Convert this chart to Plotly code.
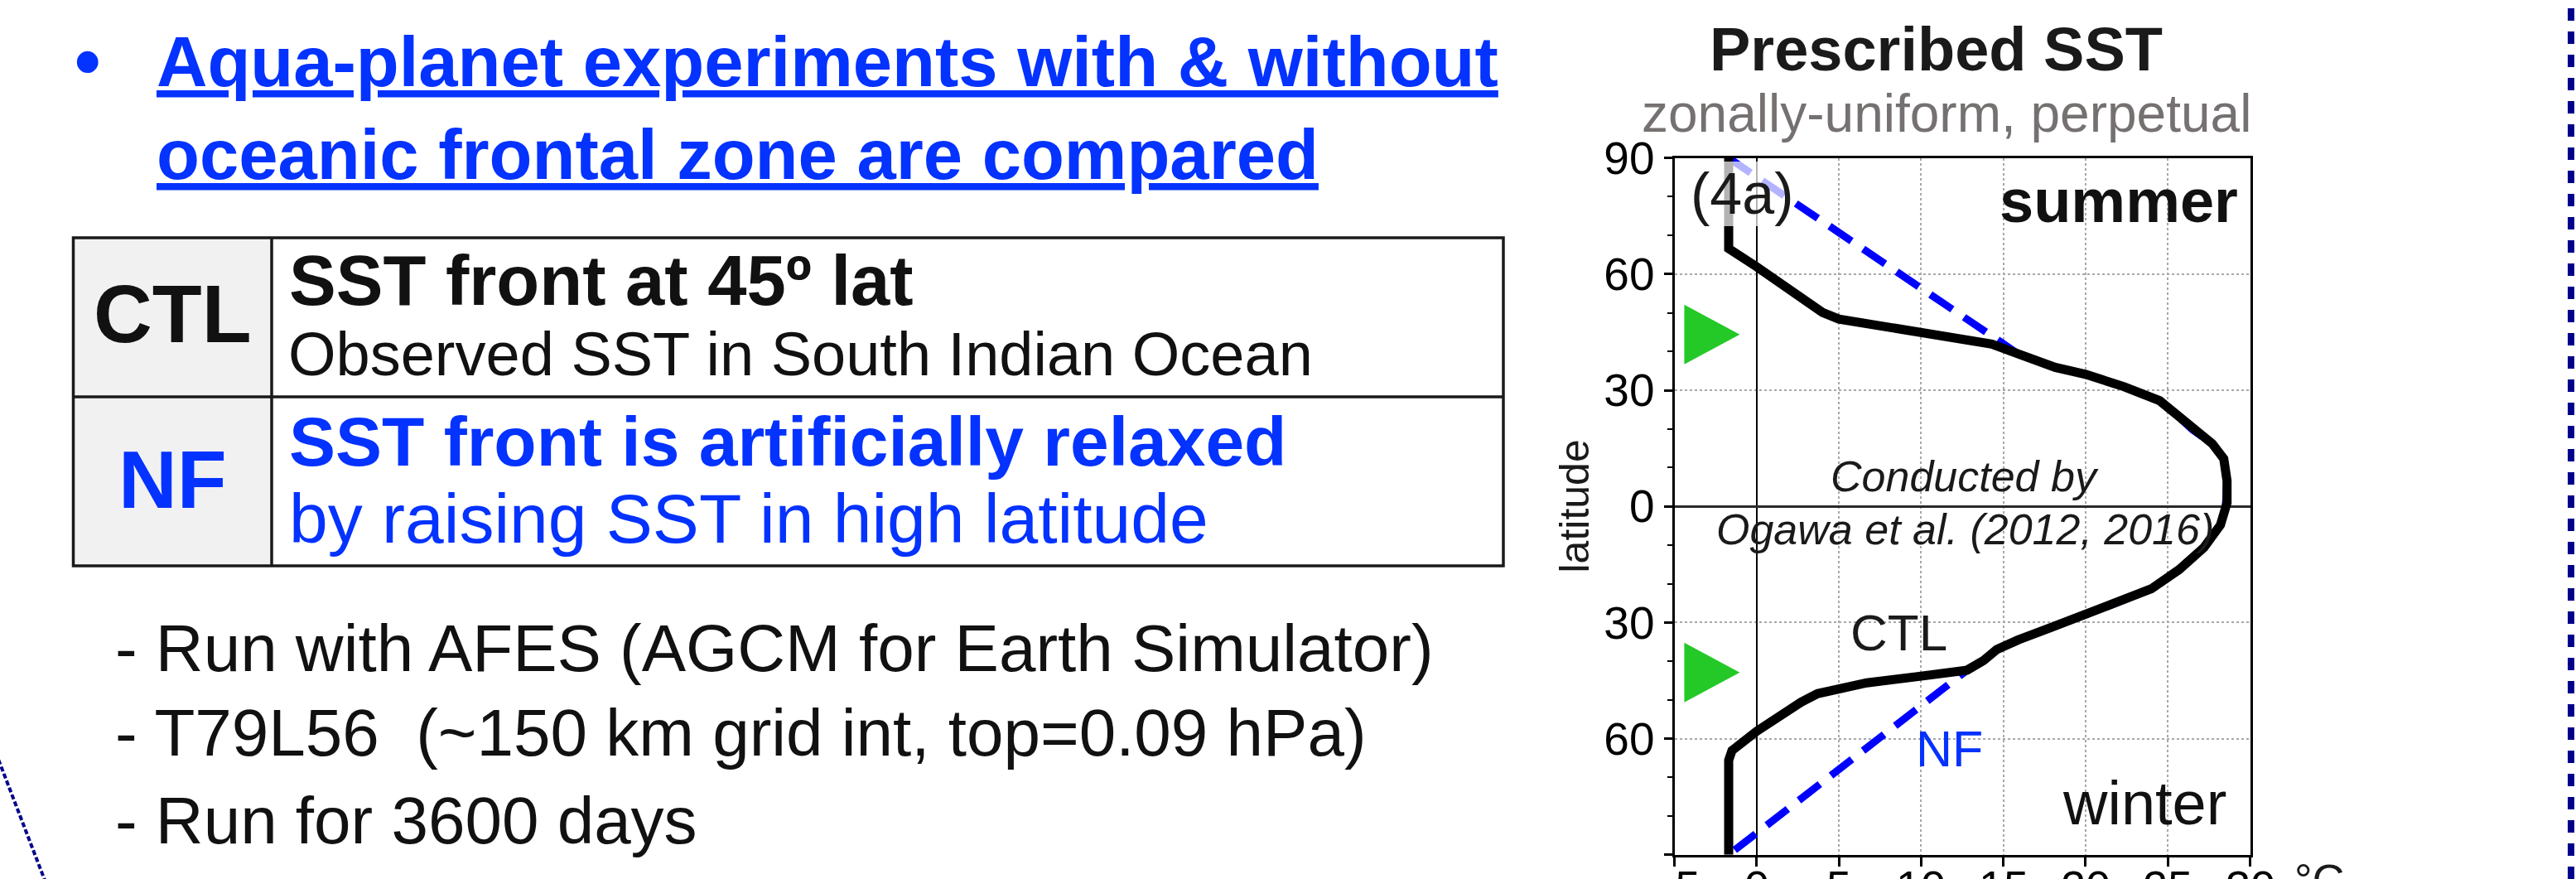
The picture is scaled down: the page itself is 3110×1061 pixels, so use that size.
import plotly.graph_objects as go

W, H = 3110, 1061
FONT = "Liberation Sans, Arial, Helvetica, sans-serif"
BLUE_TXT = "#0432ff"
NF_BLUE = "#0000ff"
GREEN = "#24c928"

# Prescribed zonal-mean SST profiles (deg C) against latitude (deg, + = summer side)
ctl_lat = [90, 66.6, 61.9, 50.1, 48.4, 46.6, 45.0, 43.4, 41.9, 39.4,
           35.9, 34.1, 30.9, 27.3, 23.7, 19.8, 16.2, 12.3, 6.6, 0.9,
           -0.6, -4.8, -10.6, -16.3, -21.3, -25.6, -27.7, -31.3, -34.5, -37.0,
           -39.8, -42.3, -43.8, -45.6, -48.4, -50.6, -58.1, -63.1, -65.6, -90]
ctl_sst = [-1.7, -1.7, 0.0, 4.0, 5.0, 7.5, 10.0, 12.6, 14.3, 15.9,
           18.15, 20.0, 22.35, 24.5, 25.5, 26.5, 27.7, 28.4, 28.6, 28.6,
           28.5, 28.2, 27.2, 25.7, 24.0, 21.5, 20.1, 17.9, 15.9, 14.6,
           13.8, 12.8, 10.1, 6.7, 3.7, 2.7, 0.0, -1.5, -1.7, -1.7]

# NF: relaxed (linear) SST poleward of these latitudes, CTL profile in between
nf_pole_lat = [90, -90]
nf_pole_sst = [-1.7, -1.7]
nf_merge_n, nf_merge_s = 39.4, -42.3

# latitudes of the CTL SST fronts
front_lat = [44.4, -42.9]

lat_ticks = [-90, -60, -30, 0, 30, 60, 90]
lat_labels = ["90", "60", "30", "0", "30", "60", "90"]
sst_ticks = [-5, 0, 5, 10, 15, 20, 25, 30]
sst_labels = ["\u22125", "0", "5", "10", "15", "20", "25", "30"]

nf_mid = [(la, s) for la, s in zip(ctl_lat, ctl_sst) if nf_merge_s <= la <= nf_merge_n]
nf_lat = [nf_pole_lat[0]] + [p[0] for p in nf_mid] + [nf_pole_lat[1]]
nf_sst = [nf_pole_sst[0]] + [p[1] for p in nf_mid] + [nf_pole_sst[1]]


def px(x):
    return x / W


def py(y):
    return 1 - y / H


fig = go.Figure()

fig.add_trace(go.Scatter(
    x=nf_sst, y=nf_lat, mode="lines", name="NF",
    line=dict(color=NF_BLUE, width=9, dash="32px,17px"),
    hoverinfo="skip", showlegend=False))
fig.add_trace(go.Scatter(
    x=ctl_sst, y=ctl_lat, mode="lines", name="CTL",
    line=dict(color="black", width=11),
    hoverinfo="skip", showlegend=False))

# green triangles marking the frontal latitudes
tri_x = -4.4
for lat in front_lat:
    fig.add_shape(type="path", xref="x", yref="y",
                  xsizemode="pixel", ysizemode="pixel",
                  xanchor=tri_x, yanchor=lat,
                  path="M 0,36 L 67,0 L 0,-36 Z",
                  fillcolor=GREEN, line=dict(width=0), layer="above")

x_dom = [2021.5 / W, 2716.5 / W]
y_dom = [1 - 1031.7 / H, 1 - 190.7 / H]

fig.update_layout(
    width=W, height=H, autosize=False,
    margin=dict(l=0, r=0, t=0, b=0, pad=0, autoexpand=False),
    paper_bgcolor="white", plot_bgcolor="white",
    font=dict(family=FONT, color="black"),
    xaxis=dict(
        domain=x_dom, range=[-5, 30], tickvals=sst_ticks, automargin=False,
        ticks="outside", ticklen=11, tickwidth=2.5, tickcolor="black",
        showticklabels=False,
        showline=True, linewidth=3, linecolor="black", mirror=True,
        showgrid=True, gridcolor="#a8a8a8", gridwidth=1.5, griddash="dot",
        zeroline=True, zerolinecolor="black", zerolinewidth=2,
        fixedrange=True),
    yaxis=dict(
        domain=y_dom, range=[-90, 90], tickvals=lat_ticks, ticktext=lat_labels,
        automargin=False,
        ticks="outside", ticklen=10, tickwidth=2.5, tickcolor="black",
        tickfont=dict(size=55, color="black", family=FONT),
        minor=dict(dtick=10, ticks="outside", ticklen=6, tickwidth=2,
                   tickcolor="black", showgrid=False),
        showline=True, linewidth=3, linecolor="black", mirror=True,
        showgrid=True, gridcolor="#a8a8a8", gridwidth=1.5, griddash="dot",
        zeroline=True, zerolinecolor="#2a2a2a", zerolinewidth=2.5,
        fixedrange=True),
)

anns = []


def add_text(text, x, y, size, color="black", xanchor="left", bg=None, angle=0):
    d = dict(xref="paper", yref="paper", x=px(x), y=py(y),
             xanchor=xanchor, yanchor="middle", showarrow=False, text=text,
             font=dict(family=FONT, size=size, color=color),
             borderpad=0, borderwidth=0, textangle=angle)
    if bg:
        d["bgcolor"] = bg
    anns.append(d)


# SST tick labels below the frame (placed on the x scale)
for v, lab in zip(sst_ticks, sst_labels):
    anns.append(dict(xref="x", yref="paper", x=v, y=py(1089 - 0.347 * 54),
                     xanchor="center", yanchor="middle", showarrow=False,
                     text=lab, font=dict(family=FONT, size=54, color="black"),
                     borderpad=0, borderwidth=0))

# heading
add_text("<b>\u2022</b>", 106, 74, 90, BLUE_TXT, "center")
add_text("<b><u>Aqua-planet experiments with &amp; without</u></b>", 189, 104 - 0.347 * 85, 85, BLUE_TXT)
add_text("<b><u>oceanic frontal zone are compared</u></b>", 189, 216 - 0.347 * 85, 85, BLUE_TXT)

# table
TB_L, TB_M, TB_R = 88.5, 328, 1815
TB_T, TB_C, TB_B = 287, 479, 683
fig.add_shape(type="rect", xref="paper", yref="paper",
              x0=px(TB_L), x1=px(TB_M), y0=py(TB_B), y1=py(TB_T),
              fillcolor="#f1f1f1", line=dict(width=0), layer="below")
fig.add_shape(type="rect", xref="paper", yref="paper",
              x0=px(TB_L), x1=px(TB_R), y0=py(TB_B), y1=py(TB_T),
              line=dict(color="#1a1a1a", width=3.5))
fig.add_shape(type="line", xref="paper", yref="paper",
              x0=px(TB_L), x1=px(TB_R), y0=py(TB_C), y1=py(TB_C),
              line=dict(color="#1a1a1a", width=3.5))
fig.add_shape(type="line", xref="paper", yref="paper",
              x0=px(TB_M), x1=px(TB_M), y0=py(TB_B), y1=py(TB_T),
              line=dict(color="#1a1a1a", width=3.5))

add_text("<b>CTL</b>", 208, 413 - 0.347 * 98, 98, "#111111", "center")
add_text("<b>NF</b>", 208, 613 - 0.347 * 98, 98, BLUE_TXT, "center")
add_text("<b>SST front at 45\u00ba lat</b>", 349, 368 - 0.347 * 85, 85, "#111111")
add_text("Observed SST in South Indian Ocean", 348, 452.7 - 0.347 * 74, 74, "#111111")
add_text("<b>SST front is artificially relaxed</b>", 349, 562 - 0.347 * 84, 84, BLUE_TXT)
add_text("by raising SST in high latitude", 349, 655 - 0.347 * 84, 84, BLUE_TXT)

# notes
add_text("- Run with AFES (AGCM for Earth Simulator)", 139, 810 - 0.347 * 80, 80, "#111111")
add_text("- T79L56 \u00a0(~150 km grid int, top=0.09 hPa)", 139, 912 - 0.347 * 80, 80, "#111111")
add_text("- Run for 3600 days", 139, 1018 - 0.347 * 80, 80, "#111111")

# panel labels
add_text("<b>Prescribed SST</b>", 2337.5, 85 - 0.347 * 74, 74, "#1a1a1a", "center")
add_text("zonally-uniform, perpetual", 2349.5, 159.3 - 0.347 * 64, 64, "#767171", "center")
add_text("(4a)", 2103, 258.3 - 0.347 * 70, 70, "#1a1a1a", "center", bg="rgba(255,255,255,0.7)")
add_text("<b>summer</b>", 2702, 268.3 - 0.347 * 74, 74, "#111111", "right")
add_text("winter", 2688, 995 - 0.347 * 74, 74, "#111111", "right")
add_text("<i>Conducted by</i>", 2372, 593 - 0.347 * 52, 52, "#1a1a1a", "center")
add_text("<i>Ogawa et al. (2012, 2016)</i>", 2372, 656.7 - 0.347 * 52, 52, "#1a1a1a", "center")
add_text("CTL", 2292.5, 785 - 0.347 * 62, 62, "#1a1a1a", "center")
add_text("NF", 2353, 925 - 0.347 * 61, 61, BLUE_TXT, "center")
add_text("\u00b0C", 2770, 1081 - 0.347 * 54, 54, "#1a1a1a")
add_text("latitude", 1900.5, 611, 50, "#1a1a1a", "center", angle=-90)

fig.update_layout(annotations=anns)

# slide decorations: dashed frame on the right, dotted arc at lower left
fig.add_shape(type="line", xref="paper", yref="paper",
              x0=px(3104), x1=px(3104), y0=0, y1=1,
              line=dict(color="#00008c", width=8, dash="15px,13px"))
fig.add_shape(type="line", xref="paper", yref="paper",
              x0=px(-5), x1=px(60), y0=py(908.7), y1=py(1078),
              line=dict(color="#00008c", width=4, dash="6px,3px"))

fig.write_html("out.html")
